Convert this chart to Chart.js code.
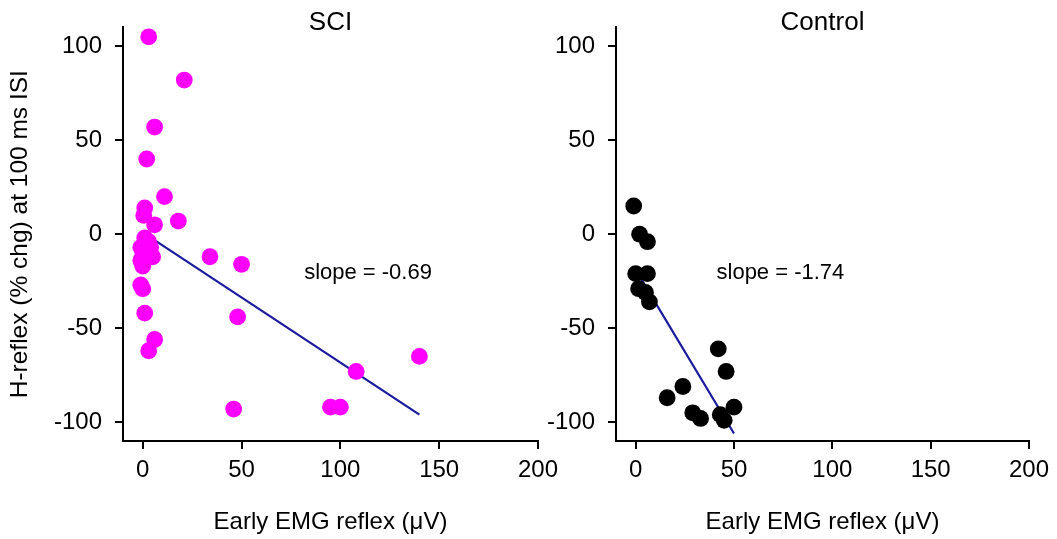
<!DOCTYPE html>
<html>
<head>
<meta charset="utf-8">
<script src="https://cdn.jsdelivr.net/npm/chart.js@4/dist/chart.umd.min.js"></script>
<style>
  html, body { margin: 0; padding: 0; background: #fff; }
  #wrap { position: relative; width: 1057px; height: 539px; overflow: hidden; background: #fff; }
  canvas { position: absolute; top: 0; }
  #c1 { left: 0; }
  #c2 { left: 530px; }
</style>
</head>
<body>
<div id="wrap">
  <canvas id="c1" width="565" height="539"></canvas>
  <canvas id="c2" width="527" height="539"></canvas>
</div>
<script>
// ---- data ----
const panelTitles = ['SCI', 'Control'];
const xAxisTitle = 'Early EMG reflex (\u03BCV)';
const yAxisTitle = 'H-reflex (% chg) at 100 ms ISI';
const xTicks = [0, 50, 100, 150, 200];
const yTicks = [-100, -50, 0, 50, 100];

const sciX = [3, 21, 6, 2, 11, 1, 0.5, 6, 18,
              1, 3, -1, 4, 0, 5, -1, 0, 2,
              -1, 0, 1, 6, 3,
              34, 50, 48, 46, 95, 100, 108, 140];
const sciY = [105, 82, 57, 40, 20, 14, 10, 5, 7,
              -2, -4, -7, -7, -10, -12, -14, -17, -9,
              -27, -29, -42, -56, -62,
              -12, -16, -44, -93, -92, -92, -73, -65];

const ctrlX = [-1, 2, 6, 0, 6, 1.5, 5, 7, 42, 46, 24, 16, 50, 29, 33, 43, 45];
const ctrlY = [15, 0, -4, -21, -21, -29, -31, -36, -61, -73, -81, -87, -92, -95, -98, -96, -99];

// fitted regression line end points
const sciFitX = [0, 140];
const sciFitY = [1, -96];
const ctrlFitX = [0, 50];
const ctrlFitY = [-19, -106];

const slopeLabels = ['slope = -0.69', 'slope = -1.74'];

// ---- styling / helpers ----
const FONT = '"Liberation Sans", Arial, Helvetica, sans-serif';
Chart.defaults.font.family = FONT;
Chart.defaults.color = '#000';

function pts(xs, ys) { return xs.map((x, i) => ({ x: x, y: ys[i] })); }

const slopeTextPlugin = {
  id: 'slopeText',
  afterDatasetsDraw(chart, args, opts) {
    const { ctx, scales } = chart;
    ctx.save();
    ctx.font = '22px ' + FONT;
    ctx.fillStyle = '#000';
    ctx.textAlign = 'center';
    ctx.textBaseline = 'middle';
    ctx.fillText(opts.text, scales.x.getPixelForValue(opts.atX), scales.y.getPixelForValue(opts.atY));
    ctx.restore();
  }
};

function makeChart(canvasId, idx, xs, ys, fx, fy, color, yAxisWidth, padRight, showYTitle, labelX) {
  return new Chart(document.getElementById(canvasId), {
    type: 'scatter',
    data: {
      datasets: [
        {
          data: pts(xs, ys),
          backgroundColor: color,
          borderWidth: 0,
          pointRadius: 8.4,
          pointHoverRadius: 8.4,
          order: 0
        },
        {
          type: 'line',
          data: pts(fx, fy),
          borderColor: '#1a1a9e',
          borderWidth: 2.2,
          pointRadius: 0,
          fill: false,
          showLine: true,
          order: 1
        }
      ]
    },
    options: {
      responsive: false,
      animation: false,
      events: [],
      layout: { padding: { left: 0, right: padRight, top: 0, bottom: 0 } },
      plugins: {
        legend: { display: false },
        tooltip: { enabled: false },
        title: {
          display: true,
          fullSize: false,
          text: panelTitles[idx],
          color: '#000',
          font: { size: 26, family: FONT, weight: 'normal', lineHeight: 1 },
          padding: { top: 7, bottom: -8 }
        },
        slopeText: { text: slopeLabels[idx], atX: labelX, atY: -20.6 }
      },
      scales: {
        x: {
          type: 'linear',
          min: -10,
          max: 200,
          afterBuildTicks: s => { s.ticks = xTicks.map(v => ({ value: v })); },
          afterFit: s => { s.height = 98; },
          grid: { drawOnChartArea: false, drawTicks: true, tickLength: 8, color: '#000', lineWidth: 2 },
          border: { display: true, color: '#000', width: 2 },
          ticks: { color: '#000', font: { size: 24, family: FONT }, padding: 7, maxRotation: 0 },
          title: {
            display: true, text: xAxisTitle, color: '#000',
            font: { size: 24, family: FONT }, padding: { top: 0, bottom: 2 }
          }
        },
        y: {
          type: 'linear',
          min: -110,
          max: 110,
          afterBuildTicks: s => { s.ticks = yTicks.map(v => ({ value: v })); },
          afterFit: s => { s.width = yAxisWidth; },
          grid: { drawOnChartArea: false, drawTicks: true, tickLength: 8, color: '#000', lineWidth: 2 },
          border: { display: true, color: '#000', width: 2 },
          ticks: { color: '#000', font: { size: 24, family: FONT }, padding: 13 },
          title: {
            display: showYTitle, text: yAxisTitle, color: '#000',
            font: { size: 24.5, family: FONT }, padding: { top: 6, bottom: 0 }
          }
        }
      }
    },
    plugins: [slopeTextPlugin]
  });
}

makeChart('c1', 0, sciX, sciY, sciFitX, sciFitY, '#ff00ff', 123, 17, true, 114);
makeChart('c2', 1, ctrlX, ctrlY, ctrlFitX, ctrlFitY, '#000000', 86, 28, false, 73.6);
</script>
</body>
</html>
